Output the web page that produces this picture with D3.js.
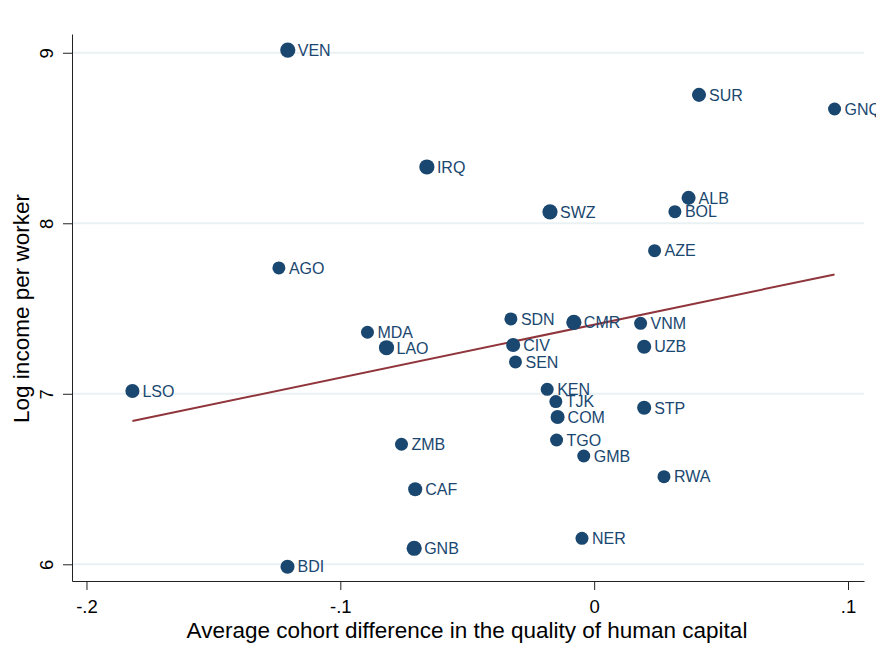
<!DOCTYPE html>
<html>
<head>
  <meta charset="utf-8">
  <title>Human capital quality and income</title>
  <script src="https://d3js.org/d3.v7.min.js"></script>
  <style>
    body { margin: 0; background: #fff; }
    text { font-family: "Liberation Sans", Arial, sans-serif; }
  </style>
</head>
<body>
  <div id="chart"></div>

  <script>
    // Country codes, x = cohort difference, y = log income per worker
    const countries = ["VEN","SUR","GNQ","IRQ","SWZ","ALB","BOL","AZE","AGO","MDA",
                       "LAO","SDN","CMR","VNM","CIV","UZB","SEN","KEN","TJK","COM",
                       "STP","ZMB","TGO","GMB","RWA","CAF","GNB","NER","BDI","LSO"];
    const cohortDiff = [-0.1207, 0.0413, 0.0947, -0.0659, -0.0174, 0.0372, 0.0318, 0.0238, -0.1242, -0.0893,
                        -0.0818, -0.0328, -0.0080, 0.0183, -0.0319, 0.0197, -0.0310, -0.0185, -0.0151, -0.0144,
                        0.0197, -0.0759, -0.0148, -0.0041, 0.0275, -0.0705, -0.0709, -0.0048, -0.1208, -0.1819];
    const logIncome = [9.016, 8.753, 8.670, 8.330, 8.067, 8.149, 8.068, 7.839, 7.738, 7.361,
                       7.270, 7.439, 7.419, 7.413, 7.286, 7.276, 7.187, 7.026, 6.954, 6.864,
                       6.918, 6.704, 6.729, 6.635, 6.514, 6.440, 6.094, 6.152, 5.986, 7.016];
    // relative marker weight
    const weights = [1.3, 1.15, 1, 1.3, 1.3, 1.15, 1, 1, 1, 1,
                     1.3, 1, 1.3, 1, 1.15, 1.15, 1, 1, 1, 1.15,
                     1.15, 1, 1, 1, 1, 1.15, 1.3, 1, 1.15, 1.15];

    // fitted line end points
    const fitX = [-0.1819, 0.0947];
    const fitY = [6.840, 7.700];

    const xTicks = [-0.2, -0.1, 0, 0.1];
    const xTickLabels = ["-.2", "-.1", "0", ".1"];
    const yTicks = [6, 7, 8, 9];
    const yTickLabels = ["6", "7", "8", "9"];

    const xTitle = "Average cohort difference in the quality of human capital";
    const yTitle = "Log income per worker";

    const data = countries.map((c, i) => ({ name: c, x: cohortDiff[i], y: logIncome[i], w: weights[i] }));

    const W = 876, H = 665;
    const plot = { left: 72, right: 864, top: 34, bottom: 581 };

    const svg = d3.select("#chart")
                  .append("svg")
                  .attr("width", W)
                  .attr("height", H);

    // scales (domain extends a little past the outer ticks, like Stata)
    const x = d3.scaleLinear()
                .domain([-0.2057, 0.1063])
                .range([plot.left, plot.right]);

    const y = d3.scaleLinear()
                .domain([5.902, 9.11])
                .range([plot.bottom, plot.top]);

    const r = d3.scaleLinear().domain([1, 1.3]).range([6.5, 7.6]);

    // gridlines
    svg.append("g")
       .selectAll("line")
       .data(yTicks)
       .enter()
       .append("line")
       .attr("x1", plot.left)
       .attr("x2", plot.right)
       .attr("y1", d => y(d))
       .attr("y2", d => y(d))
       .attr("stroke", "#eaf1f3")
       .attr("stroke-width", 2);

    // x axis
    const xAxis = svg.append("g")
       .attr("transform", "translate(0," + plot.bottom + ")")
       .call(d3.axisBottom(x)
               .tickValues(xTicks)
               .tickSize(9)
               .tickSizeOuter(0)
               .tickPadding(10)
               .tickFormat((d, i) => xTickLabels[i]));
    xAxis.select(".domain").attr("stroke", "#222");
    xAxis.selectAll(".tick line").attr("stroke", "#222");
    xAxis.selectAll(".tick text")
         .attr("fill", "#000")
         .style("font-size", "18.5px")
         .style("font-family", "'Liberation Sans', Arial, sans-serif");

    // y axis
    const yAxis = svg.append("g")
       .attr("transform", "translate(" + plot.left + ",0)")
       .call(d3.axisLeft(y)
               .tickValues(yTicks)
               .tickSize(9)
               .tickSizeOuter(0)
               .tickFormat((d, i) => yTickLabels[i]));
    yAxis.select(".domain").attr("stroke", "#222");
    yAxis.selectAll(".tick line").attr("stroke", "#222");
    yAxis.selectAll(".tick text")
         .attr("fill", "#000")
         .attr("x", null)
         .attr("dy", null)
         .attr("text-anchor", "middle")
         .attr("transform", "translate(-19,0) rotate(-90)")
         .style("font-size", "18.5px")
         .style("font-family", "'Liberation Sans', Arial, sans-serif");

    // fitted line
    svg.append("line")
       .attr("x1", x(fitX[0]))
       .attr("y1", y(fitY[0]))
       .attr("x2", x(fitX[1]))
       .attr("y2", y(fitY[1]))
       .attr("stroke", "#90353b")
       .attr("stroke-width", 2);

    // points
    svg.append("g")
       .selectAll("circle")
       .data(data)
       .enter()
       .append("circle")
       .attr("cx", d => x(d.x))
       .attr("cy", d => y(d.y))
       .attr("r", d => r(d.w))
       .attr("fill", "#1a476f");

    // labels at 3 o'clock
    svg.append("g")
       .selectAll("text")
       .data(data)
       .enter()
       .append("text")
       .attr("x", d => x(d.x) + 10)
       .attr("y", d => y(d.y))
       .attr("dy", "0.36em")
       .attr("fill", "#1a476f")
       .style("font-size", "16px")
       .text(d => d.name);

    // axis titles
    svg.append("text")
       .attr("x", 467)
       .attr("y", 638)
       .attr("text-anchor", "middle")
       .attr("fill", "#000")
       .style("font-size", "22.5px")
       .text(xTitle);

    svg.append("text")
       .attr("transform", "translate(29," + ((plot.top + plot.bottom) / 2 + 1) + ") rotate(-90)")
       .attr("text-anchor", "middle")
       .attr("fill", "#000")
       .style("font-size", "22.5px")
       .text(yTitle);
  </script>
</body>
</html>
